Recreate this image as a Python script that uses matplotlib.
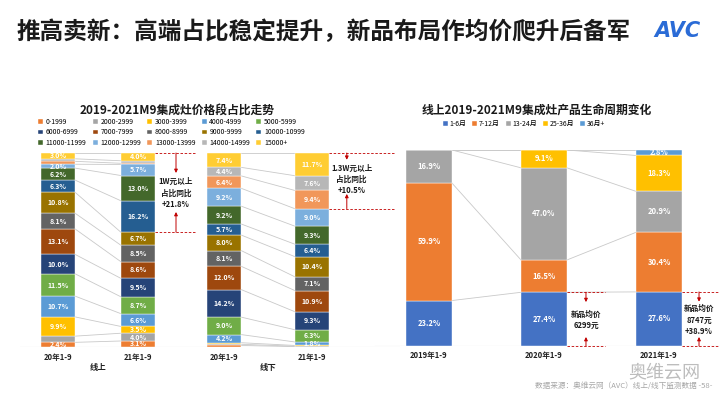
import matplotlib
matplotlib.use('Agg')
import matplotlib.pyplot as plt
import numpy as np

plt.rcParams['font.family'] = ['Noto Sans CJK SC', 'DejaVu Sans']

# ---------------- data ----------------
price_bands = ['0-1999', '2000-2999', '3000-3999', '4000-4999', '5000-5999',
               '6000-6999', '7000-7999', '8000-8999', '9000-9999', '10000-10999',
               '11000-11999', '12000-12999', '13000-13999', '14000-14999', '15000+']
price_colors = ['#ED7D31', '#A5A5A5', '#FFC000', '#5B9BD5', '#70AD47',
                '#264478', '#9E480E', '#636363', '#997300', '#255E91',
                '#43682B', '#7CAFDD', '#F1975A', '#B7B7B7', '#FFCD33']
left_bar_labels = ['20年1-9', '21年1-9', '20年1-9', '21年1-9']
left_groups = ['线上', '线下']
online_2020 = [2.4, 3.2, 9.9, 10.7, 11.5, 10.0, 13.1, 8.1, 10.8, 6.3, 6.2, 2.0, 1.5, 1.3, 3.0]
online_2021 = [3.1, 4.0, 3.5, 6.6, 8.7, 9.5, 8.6, 8.5, 6.7, 16.2, 13.0, 5.7, 0.6, 1.3, 4.0]
offline_2020 = [0.8, 0.6, 0.8, 4.2, 9.0, 14.2, 12.0, 8.1, 8.0, 5.7, 9.2, 9.2, 6.4, 4.4, 7.4]
offline_2021 = [0.2, 0.2, 0.4, 1.8, 6.3, 9.3, 10.9, 7.1, 10.4, 6.4, 9.3, 9.0, 9.4, 7.6, 11.7]

life_stages = ['1-6月', '7-12月', '13-24月', '25-36月', '36月+']
life_colors = ['#4472C4', '#ED7D31', '#A5A5A5', '#FFC000', '#5B9BD5']
life_years = ['2019年1-9', '2020年1-9', '2021年1-9']
life_1_6 = [23.2, 27.4, 27.6]
life_7_12 = [59.9, 16.5, 30.4]
life_13_24 = [16.9, 47.0, 20.9]
life_25_36 = [0.0, 9.1, 18.3]
life_36p = [0.0, 0.0, 2.8]

RED = '#C00000'
LINE = '#C9C9C9'

fig = plt.figure(figsize=(7.2, 4.05), dpi=100)
fig.patch.set_facecolor('white')


def px_axes(x0, y0, x1, y1):
    return fig.add_axes([x0 / 720, 1 - y1 / 405, (x1 - x0) / 720, (y1 - y0) / 405])


def fx(x):
    return x / 720


def fy(y):
    return 1 - y / 405


# ---------------- header / footer ----------------
fig.text(fx(16), fy(32), '推高卖新：高端占比稳定提升，新品布局作均价爬升后备军',
         fontsize=17, fontweight='bold', color='#1A1A1A', va='center', ha='left')
fig.text(fx(654), fy(31), 'AVC', fontsize=15, fontweight='bold', style='italic',
         color='#2A6BD6', va='center', ha='left', family='DejaVu Sans')
fig.text(fx(712), fy(386), '数据来源：奥维云网（AVC）线上/线下监测数据 -58-',
         fontsize=5.5, color='#A6A6A6', va='center', ha='right')
fig.text(fx(700), fy(372), '奥维云网', fontsize=13, color='#BDBDBD', va='center', ha='right')

# ---------------- left chart ----------------
ax1 = px_axes(20, 153, 400, 347)
xpos = np.array([0, 1, 2.075, 3.175])
bw = 0.43
ax1.set_xlim((20 - 58) / 80, (400 - 58) / 80)
ax1.set_ylim(0, 100)
ax1.axis('off')

data = np.array([online_2020, online_2021, offline_2020, offline_2021])
tops = np.cumsum(data, axis=1)
bottoms = tops - data

handles = []
for k, band in enumerate(price_bands):
    h = ax1.bar(xpos, data[:, k], bw, bottom=bottoms[:, k], color=price_colors[k],
                edgecolor='white', linewidth=0.3, label=band)
    handles.append(h)

# segment labels, skipping ones that would collide with the previous label
for i in range(4):
    last_c = -100
    for k in range(len(price_bands)):
        v = data[i, k]
        c = bottoms[i, k] + v / 2
        if v >= 1.5 and c - last_c >= 3.4:
            ax1.text(xpos[i], c, f'{v:.1f}%', ha='center', va='center',
                     fontsize=5, fontweight='bold', color='white')
            last_c = c

for a, b in [(0, 1), (2, 3)]:
    for k in range(len(price_bands)):
        ax1.plot([xpos[a] + bw / 2, xpos[b] - bw / 2], [tops[a, k], tops[b, k]],
                 color=LINE, lw=0.6, zorder=0)

ax1.axhline(0, color='#D9D9D9', lw=0.8, zorder=0)
for i, lab in enumerate(left_bar_labels):
    ax1.text(xpos[i], -3, lab, ha='center', va='top', fontsize=5.5, fontweight='bold',
             color='#222222', clip_on=False)
for g, lab in enumerate(left_groups):
    ax1.text((xpos[2 * g] + xpos[2 * g + 1]) / 2, -10.8, lab, ha='center', va='center',
             fontsize=6, fontweight='bold', color='#222222', clip_on=False)

fig.text(fx(177), fy(110), '2019-2021M9集成灶价格段占比走势', fontsize=8.5,
         fontweight='bold', ha='center', va='center', color='#1A1A1A')

order = [j + 5 * i for j in range(5) for i in range(3)]
ax1.legend([handles[o] for o in order], [price_bands[o] for o in order], ncol=5,
           loc='upper left', bbox_to_anchor=(fx(38), fy(118)), bbox_transform=fig.transFigure,
           fontsize=5, frameon=False, handlelength=0.7, handleheight=0.7,
           handletextpad=0.4, columnspacing=0.9, labelspacing=0.35, borderpad=0,
           borderaxespad=0)


def bracket(ax, x, y_top, y_bot, tip_down, tip_up, x_from, x_to, text, y_text, x_text):
    ax.plot([x_from, x_to], [y_top, y_top], color=RED, lw=0.6, ls=(0, (3, 2)), clip_on=False)
    ax.plot([x_from, x_to], [y_bot, y_bot], color=RED, lw=0.6, ls=(0, (3, 2)), clip_on=False)
    ax.annotate('', xy=(x, tip_down), xytext=(x, y_top),
                arrowprops=dict(arrowstyle='-|>', color=RED, lw=0.7, mutation_scale=5,
                                shrinkA=0, shrinkB=0), annotation_clip=False)
    ax.annotate('', xy=(x, tip_up), xytext=(x, y_bot),
                arrowprops=dict(arrowstyle='-|>', color=RED, lw=0.7, mutation_scale=5,
                                shrinkA=0, shrinkB=0), annotation_clip=False)
    ax.text(x_text, y_text, text, ha='center', va='center', fontsize=5.5,
            fontweight='bold', color='#1A1A1A', linespacing=1.3, clip_on=False)


bracket(ax1, 1.475, 100, tops[1, 8], 89.7, 69.6, xpos[1] + bw / 2, 1.71,
        '1W元以上\n占比同比\n+21.8%', 79.4, 1.475)
bracket(ax1, 3.61, 100, tops[3, 11], 96.5, 78.9, xpos[3] + bw / 2, 4.21,
        '1.3W元以上\n占比同比\n+10.5%', 86.6, 3.67)

# ---------------- right chart ----------------
ax2 = px_axes(370, 150, 720, 346)
rpos = np.arange(3)
rw = 0.4
ax2.set_xlim((370 - 429) / 115, (720 - 429) / 115)
ax2.set_ylim(0, 100)
ax2.axis('off')

life = np.array([life_1_6, life_7_12, life_13_24, life_25_36, life_36p]).T
ltops = np.cumsum(life, axis=1)
lbots = ltops - life
rhandles = []
for k, st in enumerate(life_stages):
    h = ax2.bar(rpos, life[:, k], rw, bottom=lbots[:, k], color=life_colors[k],
                edgecolor='white', linewidth=0.3, label=st)
    rhandles.append(h)
    for i in range(3):
        v = life[i, k]
        if v > 0:
            ax2.text(rpos[i], lbots[i, k] + v / 2, f'{v:.1f}%', ha='center', va='center',
                     fontsize=5.5, fontweight='bold', color='white')
for a, b in [(0, 1), (1, 2)]:
    for k in range(len(life_stages)):
        ax2.plot([rpos[a] + rw / 2, rpos[b] - rw / 2], [ltops[a, k], ltops[b, k]],
                 color=LINE, lw=0.6, zorder=0)
ax2.axhline(0, xmin=0.015, color='#D9D9D9', lw=0.8, zorder=0)
for i, lab in enumerate(life_years):
    ax2.text(rpos[i], -2.5, lab, ha='center', va='top', fontsize=5.5, fontweight='bold',
             color='#222222', clip_on=False)

fig.text(fx(537), fy(110), '线上2019-2021M9集成灶产品生命周期变化', fontsize=8.5,
         fontweight='bold', ha='center', va='center', color='#1A1A1A')
ax2.legend(rhandles, life_stages, ncol=5, loc='center', bbox_to_anchor=(fx(524), fy(124)),
           bbox_transform=fig.transFigure, fontsize=5, frameon=False, handlelength=0.7,
           handleheight=0.7, handletextpad=0.3, columnspacing=0.8, borderpad=0)

bracket(ax2, 1.365, life_1_6[1], 0, 22.4, 4.6, rpos[1] + rw / 2, 1.53,
        '新品均价\n6299元', 13.3, 1.365)
bracket(ax2, 2.348, life_1_6[2], 0, 22.6, 4.6, rpos[2] + rw / 2, 2.53,
        '新品均价\n8747元\n+38.9%', 13.3, 2.348)

fig.savefig('out.png', dpi=100, facecolor='white')
